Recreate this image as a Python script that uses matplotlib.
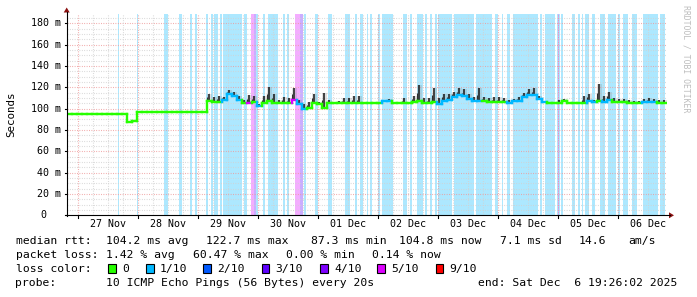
import matplotlib
matplotlib.use("Agg")
import matplotlib.pyplot as plt
from matplotlib.patches import Rectangle, Polygon
from matplotlib.collections import LineCollection

# ------------------------------------------------------------
# data: 10 days, one sample every 2 h, hours counted from graph start
# (Wed Nov 26 19:26:02 2025)
# ------------------------------------------------------------
STEP_H = 2
median_ms = [
    95, 95, 95, 95, 95, 95, 95, 95, 95, 95, 95, 95,
    87.5, 88.7,
    96.5, 96.5, 96.5, 96.5, 96.5, 96.5, 96.5, 96.5, 96.5, 96.5, 96.5, 96.5, 96.5, 96.5,
    107, 106, 106, 108, 114, 112, 108, 105, 105, 106,
    102, 105, 107, 105, 105, 105, 105, 108, 104, 100,
    101, 105, 104, 101, 105, 105, 105, 105, 105, 105,
    105, 105, 105, 105, 105, 107, 107, 105, 105, 105,
    105, 106, 107, 105, 105, 106, 104, 107, 108, 111,
    113, 112, 109, 107, 107, 107, 106, 106, 106, 106,
    105, 107, 107, 111, 113, 113, 109, 106, 105, 105,
    105, 107, 105, 105, 105, 105, 107, 106, 107, 106,
    108, 106, 106, 106, 105, 105, 105, 106, 106, 106,
    105, 105,
]
smoke_max_ms = [
    95, 95, 95, 95, 95, 95, 95, 95, 95, 95, 95, 95,
    87.5, 88.7,
    96.5, 96.5, 96.5, 96.5, 96.5, 96.5, 96.5, 96.5, 96.5, 96.5, 96.5, 96.5, 96.5, 96.5,
    114, 111, 112, 111, 117, 116, 112, 108, 113, 112,
    104, 112, 120, 114, 108, 111, 110, 119, 108, 104,
    106, 114, 106, 115, 108, 106, 107, 110, 110, 112,
    112, 105, 106, 105, 106, 108, 109, 105, 106, 110,
    105, 112, 122, 110, 110, 119, 110, 114, 114, 116,
    119, 118, 114, 111, 119, 111, 110, 111, 111, 110,
    108, 109, 111, 115, 118, 119, 112, 107, 106, 106,
    108, 109, 106, 106, 106, 112, 114, 108, 123, 112,
    116, 110, 109, 109, 108, 107, 107, 109, 110, 109,
    108, 108,
]
line_loss = [
    0] * 28 + [
    0, 0, 0, 1, 1, 1, 1, 0, 5, 0,
    1, 0, 0, 0, 0, 0, 0, 5, 1, 1,
    0, 0, 0, 0, 0, 0, 0, 0, 0, 0,
    0, 0, 0, 0, 0, 1, 1, 0, 0, 0,
    0, 0, 0, 0, 0, 0, 1, 1, 1, 1,
    1, 1, 1, 1, 1, 0, 0, 0, 0, 0,
    1, 1, 1, 1, 1, 1, 1, 1, 0, 0,
    0, 0, 0, 0, 0, 0, 1, 1, 0, 1,
    1, 0, 0, 0, 0, 0, 0, 1, 1, 1,
    0, 0,
]

# loss background bars: (start h, end h, lost pings of 10)
loss_bars = [
    (20.5, 21.1, 1), (28.1, 28.7, 1), (38.9, 40.6, 1), (44.9, 45.6, 1),
    (45.9, 46.3, 1), (49.3, 50.0, 1), (51.3, 52.0, 1), (55.6, 56.6, 1),
    (57.6, 58.4, 1), (58.9, 60.6, 1), (61.3, 62.2, 1), (62.6, 70.0, 1),
    (71.0, 72.0, 1), (73.7, 75.0, 5), (75.0, 75.8, 3), (75.8, 76.6, 1),
    (78.5, 79.3, 1), (80.6, 84.4, 1), (86.6, 87.3, 1), (88.2, 88.9, 1),
    (91.3, 93.3, 5), (93.3, 94.6, 3), (95.0, 95.7, 1), (99.3, 100.6, 1),
    (104.6, 106.0, 1), (111.3, 113.3, 1), (115.3, 116.0, 1), (117.3, 118.6, 1),
    (120.0, 120.6, 1), (121.3, 122.0, 1), (124.6, 125.3, 1), (126.0, 130.6, 1),
    (134.6, 136.0, 1), (137.3, 138.0, 1), (140.0, 142.6, 1), (143.3, 144.0, 1),
    (145.3, 146.0, 1), (147.3, 148.0, 1), (148.6, 154.2, 1), (154.8, 163.1, 1),
    (163.7, 170.0, 1), (171.3, 172.6, 1), (174.0, 174.6, 1), (176.0, 177.3, 1),
    (178.6, 188.4, 1), (189.3, 190.0, 1), (191.3, 195.3, 1), (196.0, 196.4, 1),
    (196.4, 196.9, 3), (196.9, 197.3, 1), (197.7, 198.6, 1), (202.0, 203.3, 1),
    (204.6, 205.3, 1), (206.0, 206.6, 1), (207.3, 208.9, 1), (210.0, 211.3, 1),
    (213.3, 215.3, 1), (216.6, 219.6, 1), (220.6, 221.3, 1), (222.6, 224.6, 1),
    (226.0, 228.0, 1), (230.6, 236.6, 1), (237.3, 239.3, 1),
]

day_labels = ["27 Nov", "28 Nov", "29 Nov", "30 Nov", "01 Dec",
              "02 Dec", "03 Dec", "04 Dec", "05 Dec", "06 Dec"]
FIRST_MIDNIGHT_H = 4.566   # Nov 27 00:00 relative to start
SPAN_H = 240

loss_colors = {0: "#26ff00", 1: "#00b8ff", 2: "#0059ff", 3: "#5e00ff",
               4: "#7e00ff", 5: "#dd00ff", 9: "#ff0000"}
legend_steps = [(0, "0"), (1, "1/10"), (2, "2/10"), (3, "3/10"),
                (4, "4/10"), (5, "5/10"), (9, "9/10")]

# ------------------------------------------------------------
W, H = 697, 297
MONO = "DejaVu Sans Mono"
plt.rcParams["font.family"] = MONO

fig = plt.figure(figsize=(W / 100, H / 100), dpi=100)
fig.patch.set_facecolor("white")

x0, x1, yb, yt = 66.7, 666.7, 215.3, 14.4
ax = fig.add_axes([x0 / W, 1 - yb / H, (x1 - x0) / W, (yb - yt) / H])
ax.set_xlim(0, SPAN_H)
ax.set_ylim(0, (yb - yt) / 1.0667)
ax.set_facecolor("white")
for s in ax.spines.values():
    s.set_visible(False)
ax.set_xticks([])
ax.set_yticks([])


def fx(px):
    return px / W


def fy(py):
    return 1 - py / H


# loss bars
for s, e, lv in loss_bars:
    ax.axvspan(s, e, color=loss_colors[lv], alpha=0.32, lw=0, zorder=1)

# grid (dotted)
dots = (0, (0.72, 1.44))
minor_c, major_c = "#d2d2d2", "#ee9a9a"
ymax = ax.get_ylim()[1]
for v in range(5, int(ymax) + 1, 5):
    ax.axhline(v, color=major_c if v % 20 == 0 else minor_c, lw=0.8,
               ls=dots, zorder=2)
h = FIRST_MIDNIGHT_H
k = 0
while h < SPAN_H:
    ax.axvline(h, color=major_c if k % 4 == 0 else minor_c, lw=0.8,
               ls=dots, zorder=2)
    h += 6
    k += 1

# smoke
t = [i * STEP_H for i in range(len(median_ms))]
ax.fill_between(t + [t[-1] + STEP_H],
                median_ms + [median_ms[-1]], smoke_max_ms + [smoke_max_ms[-1]],
                step="post", color="#8a8a8a", alpha=0.25, lw=0, zorder=3)
for ti, lo, hi in zip(t, median_ms, smoke_max_ms):
    if hi > lo:
        ax.vlines(ti + 1, lo, hi, color="#151515", lw=1.1, zorder=3)
        ax.vlines(ti + 0.2, lo, (lo + hi) / 2, color="#303030", lw=0.8, zorder=3)

# median line coloured by loss
segs, cols = [], []
for i, (ti, m) in enumerate(zip(t, median_ms)):
    c = loss_colors[line_loss[i]]
    if i > 0 and median_ms[i - 1] != m:
        segs.append([(ti, median_ms[i - 1]), (ti, m)])
        cols.append(c)
    segs.append([(ti, m), (ti + STEP_H, m)])
    cols.append(c)
ax.add_collection(LineCollection(segs, colors=cols, linewidths=1.7,
                                 capstyle="projecting", zorder=4))

# axes lines and arrows
fig.add_artist(plt.Line2D([fx(x0), fx(x0)], [fy(yb + 0.5), fy(12)],
                          color="black", lw=0.8))
fig.add_artist(plt.Line2D([fx(x0 - 0.5), fx(670)], [fy(yb), fy(yb)],
                          color="black", lw=0.8))
fig.add_artist(Polygon([(fx(x0 - 3), fy(12.5)), (fx(x0 + 3), fy(12.5)),
                        (fx(x0), fy(7.5))], closed=True, color="#8b1010", lw=0))
fig.add_artist(Polygon([(fx(669), fy(yb - 3)), (fx(669), fy(yb + 3)),
                        (fx(674), fy(yb))], closed=True, color="#8b1010", lw=0))

# x ticks at midnights and day labels at noon
px_per_h = (x1 - x0) / SPAN_H
for d, lab in enumerate(day_labels):
    mid = FIRST_MIDNIGHT_H + 24 * d
    pxm = x0 + mid * px_per_h
    fig.add_artist(plt.Line2D([fx(pxm), fx(pxm)], [fy(yb), fy(yb + 3)],
                              color="black", lw=0.8))
    pxl = x0 + (mid + 12) * px_per_h
    fig.text(fx(pxl), fy(224), lab, ha="center", va="center", fontsize=7.2)

# y labels
for v in range(0, 181, 20):
    py = yb - v * 1.0667
    if v == 0:
        fig.text(fx(46.8), fy(py), "0", ha="right", va="center", fontsize=7.2)
    else:
        fig.text(fx(60.5), fy(py), f"{v} m", ha="right", va="center", fontsize=7.2)
    fig.add_artist(plt.Line2D([fx(x0 - 2), fx(x0)], [fy(py), fy(py)],
                              color="black", lw=0.8))

fig.text(fx(11), fy(114), "Seconds", rotation=90, ha="center", va="center",
         fontsize=7.8)
fig.text(fx(686), fy(59), "RRDTOOL / TOBI OETIKER", rotation=270, ha="center",
         va="center", fontsize=5.9, color="#bdbdbd")

# legend text
fs = 8.2
rows = [
    (241, [("median rtt:", 15.5), ("104.2 ms avg", 106.5), ("122.7 ms max", 206.5),
           ("87.3 ms min", 311), ("104.8 ms now", 399.3), ("7.1 ms sd", 500),
           ("14.6", 578.5), ("am/s", 627.8)]),
    (255, [("packet loss:", 15.5), ("1.42 % avg", 106.5), ("60.47 % max", 192.8),
           ("0.00 % min", 285.5), ("0.14 % now", 372.2)]),
    (269, [("loss color:", 15.5)]),
    (283, [("probe:", 15.5), ("10 ICMP Echo Pings (56 Bytes) every 20s", 106.5),
           ("end: Sat Dec  6 19:26:02 2025", 477.8)]),
]
for py, items in rows:
    for txt, px in items:
        fig.text(fx(px), fy(py), txt, ha="left", va="center", fontsize=fs)

box_x = [108.3, 146, 203.3, 261.7, 320, 377.3, 435.7]
for (lv, lab), bx in zip(legend_steps, box_x):
    fig.add_artist(Rectangle((fx(bx), fy(272.7)), 7.7 / W, 8.4 / H,
                             transform=fig.transFigure, facecolor=loss_colors[lv],
                             edgecolor="black", lw=0.8))
    fig.text(fx(bx + 14), fy(269), lab, ha="left", va="center", fontsize=fs)

fig.savefig("out.png", dpi=100, facecolor="white")
